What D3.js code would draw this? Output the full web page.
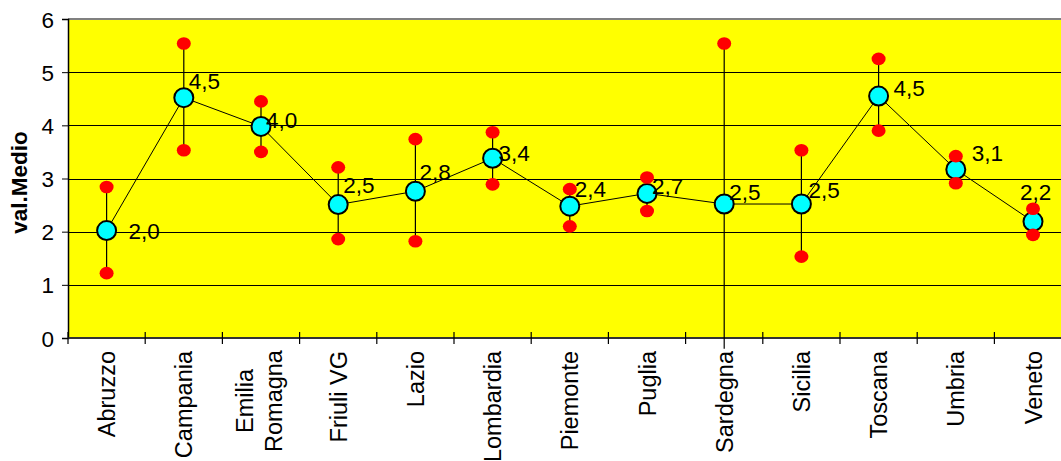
<!DOCTYPE html>
<html>
<head>
<meta charset="utf-8">
<script src="https://cdn.jsdelivr.net/npm/d3@7"></script>
<style>
  html, body { margin: 0; padding: 0; background: #ffffff; }
  svg { display: block; font-family: "Liberation Sans", Arial, sans-serif; }
</style>
</head>
<body>
<svg id="chart" width="1061" height="461"></svg>
<script>
// Regions and their mean value with the min / max range
const regions = ["Abruzzo", "Campania", "Emilia Romagna", "Friuli VG", "Lazio", "Lombardia",
  "Piemonte", "Puglia", "Sardegna", "Sicilia", "Toscana", "Umbria", "Veneto"];
const meanValues = [2.02, 4.52, 3.98, 2.51, 2.76, 3.38, 2.48, 2.72, 2.52, 2.52, 4.55, 3.17, 2.19];
const meanLabels = ["2,0", "4,5", "4,0", "2,5", "2,8", "3,4", "2,4", "2,7", "2,5", "2,5", "4,5", "3,1", "2,2"];
const maxValues = [2.84, 5.54, 4.45, 3.21, 3.74, 3.87, 2.80, 3.02, 5.54, 3.53, 5.25, 3.42, 2.43];
const minValues = [1.22, 3.53, 3.50, 1.86, 1.82, 2.89, 2.10, 2.39, -0.2, 1.53, 3.90, 2.91, 1.94];
const yTicks = [0, 1, 2, 3, 4, 5, 6];

// Label offsets relative to each mean marker (dx, dy in px)
const labelOffsets = [[22, 0], [5, -17], [5, -6], [5, -20], [4, -19], [6, -5], [5, -17],
  [5, -7], [5, -12], [7, -14], [15, -8], [16, -17], [-13, -30]];

const svg = d3.select("#chart");
const plot = { left: 68, top: 19, right: 1071.6, bottom: 338 };

const x = d3.scaleBand().domain(regions).range([plot.left, plot.right]).paddingInner(0).paddingOuter(0);
const y = d3.scaleLinear().domain([0, 6]).range([plot.bottom, plot.top]);
const cx = d => x(d) + x.bandwidth() / 2;

// plot background
svg.append("rect")
  .attr("x", plot.left).attr("y", plot.top)
  .attr("width", plot.right - plot.left).attr("height", plot.bottom - plot.top)
  .attr("fill", "#ffff00");

// horizontal gridlines
svg.append("g").selectAll("line")
  .data(yTicks.filter(t => t > 0 && t < 6))
  .join("line")
  .attr("x1", plot.left).attr("x2", plot.right)
  .attr("y1", d => Math.round(y(d)) + 0.5).attr("y2", d => Math.round(y(d)) + 0.5)
  .attr("stroke", "#000").attr("stroke-width", 1);

// top border of the plot area
svg.append("line")
  .attr("x1", plot.left).attr("x2", plot.right)
  .attr("y1", y(6)).attr("y2", y(6))
  .attr("stroke", "#808080").attr("stroke-width", 2);

// y axis
const yAxis = d3.axisLeft(y).tickValues(yTicks).tickSize(6).tickPadding(8).tickFormat(d3.format("d"));
const gy = svg.append("g").attr("transform", `translate(${plot.left},0)`).call(yAxis);
gy.select(".domain").attr("stroke", "#000").attr("stroke-width", 1.5);
gy.selectAll(".tick line").attr("stroke", "#000");
gy.selectAll(".tick text").attr("font-size", 22.5).attr("font-family", "Liberation Sans, Arial, sans-serif").attr("fill", "#000").attr("dy", "0.36em");

// x axis line
svg.append("line")
  .attr("x1", plot.left).attr("x2", plot.right)
  .attr("y1", plot.bottom).attr("y2", plot.bottom)
  .attr("stroke", "#333").attr("stroke-width", 2);

// x axis crossing tick marks at category boundaries
svg.append("g").selectAll("line")
  .data(regions)
  .join("line")
  .attr("x1", d => x(d)).attr("x2", d => x(d))
  .attr("y1", plot.bottom - 6).attr("y2", plot.bottom + 6)
  .attr("stroke", "#000").attr("stroke-width", 1.2);

// rotated category labels (the two-word region is wrapped onto two lines)
const catG = svg.append("g");
regions.forEach(r => {
  const lines = r === "Emilia Romagna" ? ["Emilia", "Romagna"] : [r];
  const lh = 29;
  lines.forEach((ln, i) => {
    const off = (i - (lines.length - 1) / 2) * lh;
    const px = cx(r) + off + (lines.length > 1 ? 6.5 : 8.5);
    const py = lines.length > 1 ? 401 : 351;
    catG.append("text")
      .attr("transform", `translate(${px},${py}) rotate(-90)`)
      .attr("text-anchor", lines.length > 1 ? "middle" : "end")
      .attr("font-size", 23.5)
      .attr("fill", "#000")
      .text(ln);
  });
});

// y axis title
svg.append("text")
  .attr("transform", `translate(27,${(plot.top + plot.bottom) / 2 + 4}) rotate(-90)`)
  .attr("text-anchor", "middle")
  .attr("font-size", 22.5)
  .attr("font-weight", "bold")
  .attr("fill", "#000")
  .text("val.Medio");

const data = regions.map((r, i) => ({
  region: r, mean: meanValues[i], max: maxValues[i], min: minValues[i],
  label: meanLabels[i], off: labelOffsets[i]
}));

// min-max whiskers
svg.append("g").selectAll("line")
  .data(data)
  .join("line")
  .attr("x1", d => cx(d.region)).attr("x2", d => cx(d.region))
  .attr("y1", d => y(d.max)).attr("y2", d => y(d.min))
  .attr("stroke", "#000").attr("stroke-width", 1.2);

// line through the means
svg.append("path")
  .datum(data)
  .attr("fill", "none")
  .attr("stroke", "#000")
  .attr("stroke-width", 1)
  .attr("d", d3.line().x(d => cx(d.region)).y(d => y(d.mean)));

// mean markers
svg.append("g").selectAll("circle")
  .data(data)
  .join("circle")
  .attr("cx", d => cx(d.region)).attr("cy", d => y(d.mean))
  .attr("r", 9.5)
  .attr("fill", "#00ffff")
  .attr("stroke", "#000").attr("stroke-width", 2);

// min and max markers (only inside the value range)
const extremes = data.flatMap(d => [{ region: d.region, v: d.max }, { region: d.region, v: d.min }])
  .filter(e => e.v >= 0 && e.v <= 6);
svg.append("g").selectAll("ellipse")
  .data(extremes)
  .join("ellipse")
  .attr("cx", e => cx(e.region)).attr("cy", e => y(e.v))
  .attr("rx", 7).attr("ry", 6.3)
  .attr("fill", "#ff0000");

// value labels
svg.append("g").selectAll("text")
  .data(data)
  .join("text")
  .attr("x", d => cx(d.region) + d.off[0])
  .attr("y", d => y(d.mean) + d.off[1])
  .attr("dy", "0.36em")
  .attr("font-size", 22.5)
  .attr("fill", "#000")
  .text(d => d.label);
</script>
</body>
</html>
